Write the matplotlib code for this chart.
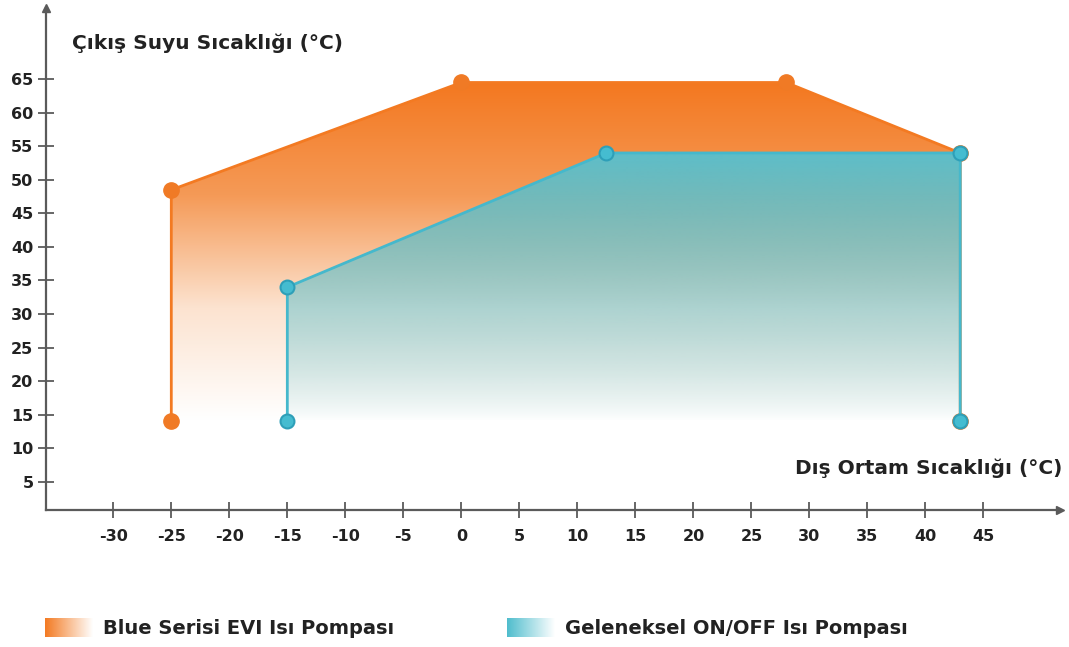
import matplotlib
matplotlib.use("Agg")
import matplotlib.pyplot as plt
import numpy as np
from matplotlib.colors import LinearSegmentedColormap, to_rgb
from matplotlib.patches import Polygon

# ---- data ----
evi_x = [-25, -25, 0, 28, 43, 43]
evi_y = [14, 48.5, 64.5, 64.5, 54, 14]
onoff_x = [-15, -15, 12.5, 43, 43]
onoff_y = [14, 34, 54, 54, 14]
x_ticks = [-30, -25, -20, -15, -10, -5, 0, 5, 10, 15, 20, 25, 30, 35, 40, 45]
y_ticks = [5, 10, 15, 20, 25, 30, 35, 40, 45, 50, 55, 60, 65]
y_label = "Çıkış Suyu Sıcaklığı (°C)"
x_label = "Dış Ortam Sıcaklığı (°C)"
series_names = ["Blue Serisi EVI Isı Pompası", "Geleneksel ON/OFF Isı Pompası"]

orange = "#F37A22"
blue = "#45B8CC"
font = ["DejaVu Sans"]
plt.rcParams['font.family'] = font

fig = plt.figure(figsize=(10.69, 6.47), dpi=100)
ax = fig.add_axes([46/1069, 1-510/647, (1060-46)/1069, (510-8)/647])

def clip_to(im, xs, ys):
    poly = Polygon(list(zip(xs, ys)), closed=True, transform=ax.transData,
                   facecolor="none", edgecolor="none")
    ax.add_patch(poly)
    im.set_clip_path(poly)

# orange gradient (opaque, white at bottom)
t = np.linspace(0, 1, 256).reshape(-1, 1)
cmap_o = LinearSegmentedColormap.from_list("o", ["#FFFFFF", "#FCE3D0", "#F59A57", "#F37820"],)
im_o = ax.imshow(cmap_o(t[:, 0]).reshape(-1, 1, 4), origin="lower",
                 extent=[min(evi_x), max(evi_x), min(evi_y), max(evi_y)],
                 aspect="auto", zorder=1, interpolation="bilinear")
clip_to(im_o, evi_x, evi_y)

# blue gradient (semi-transparent over orange)
rgb = np.array(to_rgb("#55C1D1"))
alpha = 0.95 * t[:, 0] ** 0.8
rgba = np.zeros((256, 1, 4))
rgba[:, 0, :3] = rgb
rgba[:, 0, 3] = alpha
im_b = ax.imshow(rgba, origin="lower",
                 extent=[min(onoff_x), max(onoff_x), min(onoff_y), max(onoff_y)],
                 aspect="auto", zorder=3, interpolation="bilinear")
clip_to(im_b, onoff_x, onoff_y)

ax.plot(evi_x, evi_y, color=orange, lw=2, zorder=2, solid_joinstyle="round")
ax.plot(evi_x, evi_y, "o", color="#F07A25", ms=11, zorder=2.5, mec="#F07A25")
ax.plot(onoff_x, onoff_y, color=blue, lw=2, zorder=4, solid_joinstyle="round")
ax.plot(onoff_x, onoff_y, "o", color="#45BCD0", ms=10, zorder=5, mec="#2E9FB8", mew=1.5)

ax.set_xlim(-35.8, 51.6)
ax.set_ylim(0.8, 75.6)

for s in ["top", "right"]:
    ax.spines[s].set_visible(False)
axis_col = "#5A5A5A"
for s in ["left", "bottom"]:
    ax.spines[s].set_color(axis_col)
    ax.spines[s].set_linewidth(1.6)
ax.plot([1], [0], ">", transform=ax.transAxes, color=axis_col, ms=6, clip_on=False)
ax.plot([0], [1], "^", transform=ax.transAxes, color=axis_col, ms=6, clip_on=False)

ax.set_xticks(x_ticks)
ax.set_yticks(y_ticks)
ax.set_xticklabels([str(v) for v in x_ticks])
ax.set_yticklabels([str(v) for v in y_ticks])
ax.tick_params(axis="both", direction="inout", length=12, width=1.3, color=axis_col,
               labelsize=11.5, labelcolor="#222222")
ax.tick_params(axis="x", pad=8)
ax.tick_params(axis="y", pad=3)
for tl in ax.get_xticklabels() + ax.get_yticklabels():
    tl.set_fontweight("bold")

fig.text(72/1069, 1-43/647, y_label, fontsize=14.5, color="#222222", va="center",
         ha="left", fontweight="bold")
fig.text(1062/1069, 1-468/647, x_label, fontsize=14.5, color="#222222", va="center",
         ha="right", fontweight="bold")

# legend
def swatch(x0, color, label):
    sax = fig.add_axes([x0/1069, 1-637/647, 48/1069, 19/647])
    cmap = LinearSegmentedColormap.from_list("s", [color, "#FFFFFF"])
    sax.imshow(np.linspace(0, 1, 256).reshape(1, -1), cmap=cmap, aspect="auto",
               interpolation="bilinear")
    sax.axis("off")
    fig.text((x0+58)/1069, 1-628/647, label, fontsize=14, color="#222222",
             va="center", ha="left", fontweight="bold")

swatch(45, "#F37A22", series_names[0])
swatch(507, "#4FBDCD", series_names[1])

fig.savefig("out.png", dpi=100, facecolor="white")
